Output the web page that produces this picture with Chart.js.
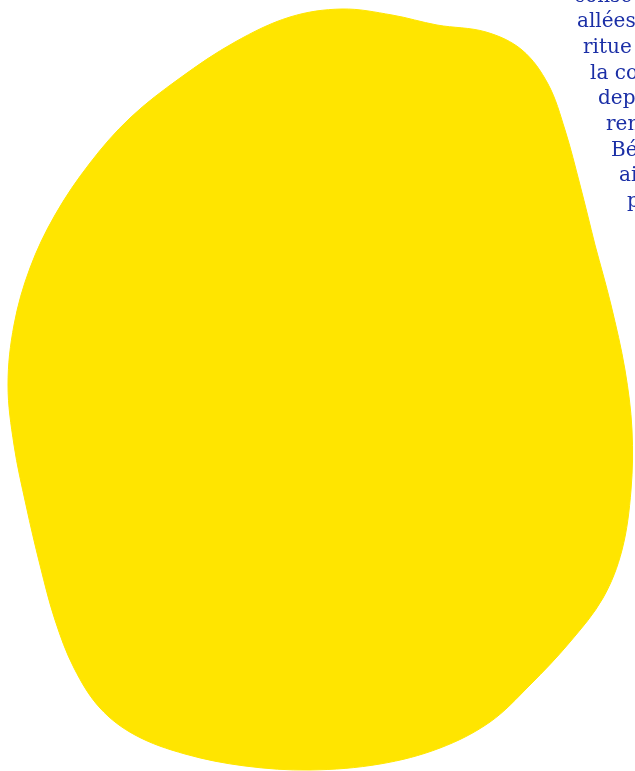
<!DOCTYPE html>
<html>
<head>
<meta charset="utf-8">
<script src="https://cdn.jsdelivr.net/npm/chart.js@4"></script>
<style>
  html, body { margin: 0; padding: 0; background: #fff; overflow: hidden; }
  #wrap { position: relative; width: 635px; height: 771px; overflow: hidden; }
  #blob { position: absolute; left: 0; top: 0; }
  .ln {
    position: absolute; white-space: nowrap;
    font-family: "DejaVu Serif", serif; font-size: 20px; line-height: 25.7px;
    color: #1b2fa6;
  }
</style>
</head>
<body>
<div id="wrap">
  <canvas id="blob" width="635" height="771"></canvas>
</div>
<script>
// contour de la forme jaune (x, y en pixels de la page), sens horaire depuis le bord droit
const blobX = [595, 611, 625, 632, 631, 622, 603, 570, 530, 490, 440, 380, 310, 245, 185, 135, 100, 74, 55, 40, 26, 14, 8, 14, 30, 55, 90, 130, 180, 235, 290, 342, 392, 437, 486, 522, 548, 565, 580];
const blobY = [245, 305, 370, 430, 490, 550, 598, 642, 685, 722, 748, 764, 770, 766, 754, 735, 708, 668, 620, 565, 505, 445, 385, 325, 268, 215, 163, 118, 78, 42, 17, 9, 15, 25, 32, 50, 84, 130, 185];

// lignes de texte à droite (coupées par le bord)
const textLines = ["conse", "allées", "ritue", "la co", "dep", "ren", "Bé", "ai", "p"];
const lineLeft = [574, 577, 583, 590, 598, 606, 611, 619, 627];

const pts = blobX.map((x, i) => ({ x: x, y: blobY[i] }));
pts.push(pts[0]);

new Chart(document.getElementById('blob'), {
  type: 'scatter',
  data: {
    datasets: [{
      data: pts,
      showLine: true,
      fill: 'shape',
      backgroundColor: '#ffe500',
      borderColor: '#ffe500',
      borderWidth: 1,
      pointRadius: 0,
      tension: 0.35
    }]
  },
  options: {
    responsive: false,
    animation: false,
    layout: { padding: 0 },
    plugins: { legend: { display: false }, tooltip: { enabled: false } },
    scales: {
      x: { type: 'linear', min: 0, max: 635, display: false },
      y: { type: 'linear', min: 0, max: 771, reverse: true, display: false }
    }
  }
});

const wrap = document.getElementById('wrap');
textLines.forEach(function(t, i) {
  const d = document.createElement('div');
  d.className = 'ln';
  d.textContent = t;
  d.style.left = lineLeft[i] + 'px';
  d.style.top = (-17.5 + i * 25.7) + 'px';
  wrap.appendChild(d);
});
</script>
</body>
</html>
